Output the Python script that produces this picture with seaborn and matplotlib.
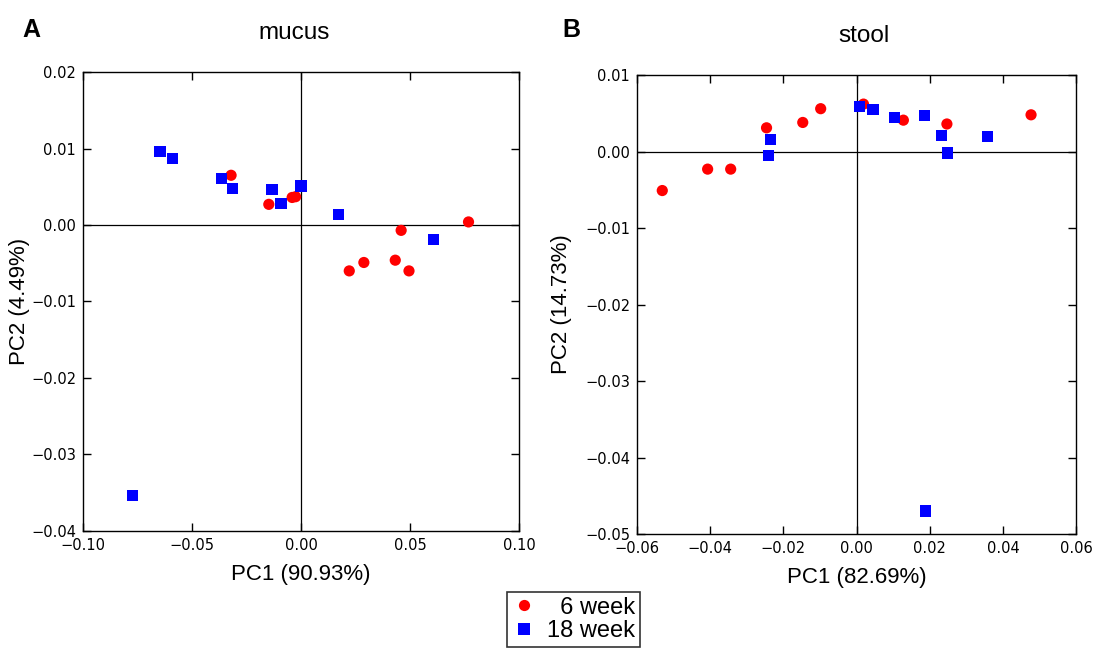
import matplotlib
matplotlib.use('Agg')
import matplotlib.pyplot as plt
import pandas as pd
import seaborn as sns
import numpy as np

# mucus PCoA coordinates
mucus_6wk_pc1 = [-0.0321, -0.0148, -0.0041, -0.0025, 0.0459, 0.0768, 0.0221, 0.0288, 0.0432, 0.0495]
mucus_6wk_pc2 = [0.0065, 0.0027, 0.0036, 0.0037, -0.0007, 0.0004, -0.0060, -0.0049, -0.0046, -0.0060]
mucus_18wk_pc1 = [-0.0647, -0.0591, -0.0364, -0.0316, -0.0133, -0.0092, 0.0000, 0.0173, 0.0608, -0.0774]
mucus_18wk_pc2 = [0.0096, 0.0087, 0.0061, 0.0048, 0.0046, 0.0028, 0.0051, 0.0014, -0.0019, -0.0354]

# stool PCoA coordinates
stool_6wk_pc1 = [-0.0531, -0.0407, -0.0344, -0.0246, -0.0147, -0.0098, 0.0019, 0.0128, 0.0247, 0.0477]
stool_6wk_pc2 = [-0.0051, -0.0023, -0.0023, 0.0031, 0.0038, 0.0056, 0.0062, 0.0041, 0.0036, 0.0048]
stool_18wk_pc1 = [-0.0236, -0.0240, 0.0009, 0.0045, 0.0104, 0.0186, 0.0233, 0.0248, 0.0357, 0.0189]
stool_18wk_pc2 = [0.0016, -0.0005, 0.0059, 0.0055, 0.0044, 0.0047, 0.0021, -0.0002, 0.0020, -0.0470]

groups = ['6 week', '18 week']
colors = {'6 week': '#ff0000', '18 week': '#0000ff'}
markers = {'6 week': 'o', '18 week': 's'}


def make_df(x6, y6, x18, y18):
    return pd.DataFrame({
        'PC1': x6 + x18,
        'PC2': y6 + y18,
        'group': ['6 week'] * len(x6) + ['18 week'] * len(x18),
    })


def fmt(v):
    s = '%.2f' % abs(v)
    return '\u2212' + s if v < -1e-9 else s


mucus = make_df(mucus_6wk_pc1, mucus_6wk_pc2, mucus_18wk_pc1, mucus_18wk_pc2)
stool = make_df(stool_6wk_pc1, stool_6wk_pc2, stool_18wk_pc1, stool_18wk_pc2)

sns.set_style('white')
plt.rcParams['font.family'] = ['Liberation Sans', 'DejaVu Sans']
plt.rcParams['text.color'] = 'black'
plt.rcParams['axes.labelcolor'] = 'black'
plt.rcParams['xtick.color'] = 'black'
plt.rcParams['ytick.color'] = 'black'

fig = plt.figure(figsize=(10.97, 6.57), dpi=100)
ax1 = fig.add_axes([0.0757, 0.1918, 0.3975, 0.6986])
ax2 = fig.add_axes([0.5807, 0.1872, 0.4002, 0.6986])

panels = [
    (ax1, mucus, 'mucus', 0.483, 'PC1 (90.93%)', 'PC2 (4.49%)', -0.122,
     (-0.10, 0.10), np.arange(-0.10, 0.101, 0.05), (-0.04, 0.02), np.arange(-0.04, 0.021, 0.01)),
    (ax2, stool, 'stool', 0.517, 'PC1 (82.69%)', 'PC2 (14.73%)', -0.148,
     (-0.06, 0.06), np.arange(-0.06, 0.061, 0.02), (-0.05, 0.01), np.arange(-0.05, 0.011, 0.01)),
]

for ax, df, title, tx, xl, yl, ylx, xlim, xt, ylim, yt in panels:
    ax.axhline(0, color='black', lw=0.9, zorder=1)
    ax.axvline(0, color='black', lw=0.9, zorder=1)
    sns.scatterplot(data=df, x='PC1', y='PC2', hue='group', style='group',
                    hue_order=groups, style_order=groups,
                    palette=colors, markers=markers, s=65,
                    edgecolor='none', linewidth=0, ax=ax, zorder=3,
                    legend=(ax is ax1))
    ax.set_xlim(*xlim)
    ax.set_ylim(*ylim)
    ax.set_xticks(xt)
    ax.set_yticks(yt)
    ax.set_xticklabels([fmt(v) for v in xt], family='DejaVu Sans', fontsize=10.5)
    ax.set_yticklabels([fmt(v) for v in yt], family='DejaVu Sans', fontsize=10.5)
    ax.tick_params(direction='in', length=6, width=1, top=True, right=True,
                   bottom=True, left=True, color='black', pad=5)
    for sp in ax.spines.values():
        sp.set_color('black')
        sp.set_linewidth(1)
    ax.set_xlabel(xl, fontsize=16, labelpad=8)
    ax.set_ylabel(yl, fontsize=16)
    ax.yaxis.set_label_coords(ylx, 0.5)
    ax.set_title(title, fontsize=17.5, pad=24, x=tx)

handles, labels = ax1.get_legend_handles_labels()
ax1.get_legend().remove()
# right-align the legend labels with a figure space before the one-digit label
shown = ['\u2007' + l if len(l) < max(len(m) for m in labels) else l for l in labels]
leg = fig.legend(handles, shown, loc='lower center', bbox_to_anchor=(0.523, -0.002),
                 fontsize=17, frameon=True, fancybox=False, edgecolor='black',
                 handletextpad=0.5, borderpad=0.2, labelspacing=0.05,
                 handlelength=1.0, markerscale=1.0)
leg.get_frame().set_linewidth(1.2)

fig.text(0.020, 0.955, 'A', fontsize=18, fontweight='bold', va='center')
fig.text(0.513, 0.955, 'B', fontsize=18, fontweight='bold', va='center')

fig.savefig('out.png', dpi=100)
